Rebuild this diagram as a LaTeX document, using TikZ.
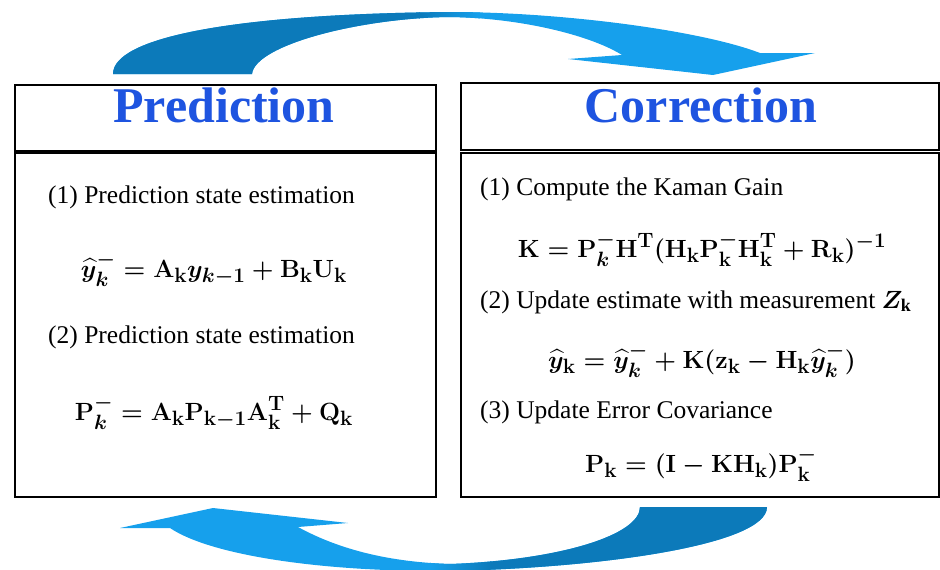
\documentclass[tikz,border=0pt]{standalone}
\usepackage{amsmath}
\usepackage{bm}
\usepackage{fontspec}
\setmainfont{Liberation Serif}
\setmathrm{Liberation Serif}
\usepackage{tikz}
\usetikzlibrary{positioning,calc}
\definecolor{titleblue}{RGB}{30,84,224}
\definecolor{arrowdark}{RGB}{12,122,186}
\definecolor{arrowlight}{RGB}{22,160,236}
\tikzstyle{panel} = [rectangle, draw, line width=1.8pt, inner sep=0pt]
\tikzstyle{title} = [anchor=base, font=\fontsize{50}{56}\selectfont\bfseries, text=titleblue, inner sep=0pt]
\tikzstyle{item} = [anchor=base west, font=\fontsize{25.5}{30}\selectfont, inner sep=0pt]
\tikzstyle{eqn} = [anchor=base, font=\fontsize{28}{32}\selectfont\boldmath, inner sep=0pt]
\newcommand{\toparrowshape}{(113,74) .. controls (113,38) and (230,14) .. (450,12) .. controls (560,12) and (700,30) .. (760,53) -- (815,53) -- (713,75) -- (568,59) -- (622,55) .. controls (590,35) and (520,18) .. (450,17) .. controls (360,18) and (255,45) .. (252,74) -- cycle}
\newcommand{\botarrowshape}{(640,507) -- (767,507) .. controls (767,545) and (600,568) .. (450,571) .. controls (320,572) and (210,555) .. (170,528) -- (120,528) -- (213,508) -- (348,523) -- (298,527) .. controls (340,550) and (390,562) .. (450,564) .. controls (560,560) and (640,535) .. (640,507) -- cycle}

\begin{document}
\begin{tikzpicture}[x=1pt, y=-1pt]
        \useasboundingbox (0,0) rectangle (940,570);
        % Boxes
        \node [panel, minimum width=421pt, minimum height=66pt] (predhead) at (225.5,118) {};
        \node [panel, minimum width=421pt, minimum height=344pt] (predbody) at (225.5,325) {};
        \node [panel, minimum width=478pt, minimum height=67pt] (corrhead) at (700,116.5) {};
        \node [panel, minimum width=478pt, minimum height=344pt] (corrbody) at (700,325) {};

        % Titles
        \node [title] (predtitle) at (224,122) {Prediction};
        \node [title] (corrtitle) at (701,122) {Correction};

        % Prediction steps
        \node [item] (pstep1) at (48,203) {(1) Prediction state estimation};
        \node [eqn] (peq1) at (214,277) {$\widehat{y}_{k}^{-} = \mathbf{A}_{\mathbf{k}}y_{k-1} + \mathbf{B}_{\mathbf{k}}\mathbf{U}_{\mathbf{k}}$};
        \node [item] (pstep2) at (48,343) {(2) Prediction state estimation};
        \node [eqn] (peq2) at (214,420) {$\mathbf{P}_{k}^{-} = \mathbf{A}_{\mathbf{k}}\mathbf{P}_{\mathbf{k-1}}\mathbf{A}_{\mathbf{k}}^{\mathbf{T}} + \mathbf{Q}_{\mathbf{k}}$};

        % Correction steps
        \node [item] (cstep1) at (480,195) {(1) Compute the Kaman Gain};
        \node [eqn] (ceq1) at (702,257) {$\mathbf{K} = \mathbf{P}_{k}^{-}\mathbf{H}^{\mathbf{T}}(\mathbf{H}_{\mathbf{k}}\mathbf{P}_{\mathbf{k}}^{-}\mathbf{H}_{\mathbf{k}}^{\mathbf{T}} + \mathbf{R}_{\mathbf{k}})^{-1}$};
        \node [item] (cstep2) at (480,308) {(2) Update estimate with measurement $\bm{Z}_{\mathbf{k}}$};
        \node [eqn] (ceq2) at (702,368) {$\widehat{y}_{\mathbf{k}} = \widehat{y}_{k}^{-} + \mathbf{K}(\mathbf{z}_{\mathbf{k}} - \mathbf{H}_{\mathbf{k}}\widehat{y}_{k}^{-})$};
        \node [item] (cstep3) at (480,418) {(3) Update Error Covariance};
        \node [eqn] (ceq3) at (701,472) {$\mathbf{P}_{\mathbf{k}} = (\mathbf{I} - \mathbf{K}\mathbf{H}_{\mathbf{k}})\mathbf{P}_{\mathbf{k}}^{-}$};

        % Loop arrows
        \fill [arrowlight] \toparrowshape;
        \begin{scope}
            \clip \toparrowshape;
            \fill [arrowdark] (100,0) rectangle (420,80);
            \shade [left color=arrowdark, right color=arrowlight] (419,0) rectangle (480,80);
        \end{scope}
        \fill [arrowlight] \botarrowshape;
        \begin{scope}
            \clip \botarrowshape;
            \fill [arrowdark] (490,500) rectangle (780,575);
            \shade [left color=arrowlight, right color=arrowdark] (430,500) rectangle (491,575);
        \end{scope}
    \end{tikzpicture}
\end{document}
